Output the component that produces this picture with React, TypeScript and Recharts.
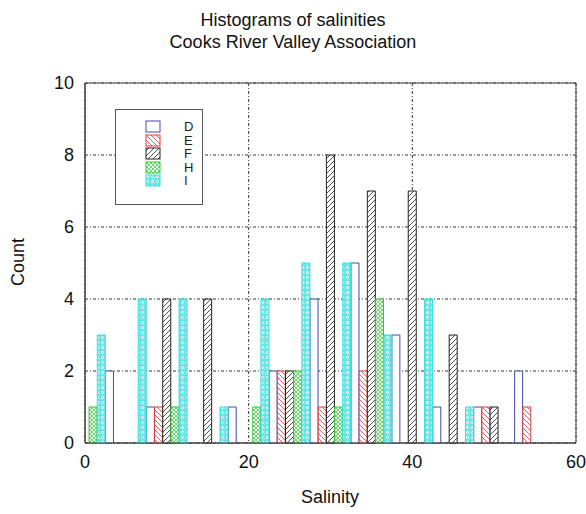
import { BarChart, Bar, XAxis, YAxis, CartesianGrid, ReferenceArea } from "recharts";

// salinity bins (bin centres) and counts per site
const bins = [0, 5, 10, 15, 20, 25, 30, 35, 40, 45, 50, 55];
const countsD = [0, 2, 1, 0, 1, 2, 4, 5, 3, 1, 1, 2];
const countsE = [0, 0, 1, 0, 0, 2, 1, 2, 0, 0, 1, 1];
const countsF = [0, 0, 4, 4, 0, 2, 8, 7, 7, 3, 1, 0];
const countsH = [1, 0, 1, 0, 1, 2, 1, 4, 0, 0, 0, 0];
const countsI = [3, 4, 4, 1, 4, 5, 5, 3, 4, 1, 0, 0];

const sites = ["D", "E", "F", "H", "I"];
const xTicks = [0, 20, 40, 60];
const yTicks = [0, 2, 4, 6, 8, 10];

const counts: Record<string, number[]> = { D: countsD, E: countsE, F: countsF, H: countsH, I: countsI };
// each site's bar sits at a fixed shift from the bin centre
const shift: Record<string, number> = { D: -2, E: -1, F: 0, H: 1, I: 2 };
const colors: Record<string, string> = {
  D: "#4646b8",
  E: "#dd3b3b",
  F: "#222222",
  H: "#33c833",
  I: "#33dede",
};

const rows: any[] = [];
bins.forEach((b, i) => {
  sites.forEach((s) => {
    const v = counts[s][i];
    if (v > 0) rows.push({ x: b + shift[s], [s]: v });
  });
});
rows.sort((a, b) => a.x - b.x);

const font = "'Liberation Sans', Arial, sans-serif";

const Patterns = () => (
  <defs>
    <pattern id="pD" width="4" height="4" patternUnits="userSpaceOnUse">
      <rect width="4" height="4" fill="#fff" />
    </pattern>
    <pattern id="pE" width="5" height="5" patternUnits="userSpaceOnUse">
      <rect width="5" height="5" fill="#fff" />
      <path d="M-1,-1 L6,6 M-1,4 L1,6 M4,-1 L6,1" stroke={colors.E} strokeWidth="0.8" />
    </pattern>
    <pattern id="pF" width="5" height="5" patternUnits="userSpaceOnUse">
      <rect width="5" height="5" fill="#fff" />
      <path d="M-1,6 L6,-1 M-1,1 L1,-1 M4,6 L6,4" stroke={colors.F} strokeWidth="0.8" />
    </pattern>
    <pattern id="pH" width="4" height="4" patternUnits="userSpaceOnUse">
      <rect width="4" height="4" fill="#f2fcf2" />
      <path d="M0,0 L4,4 M4,0 L0,4" stroke={colors.H} strokeWidth="0.7" />
    </pattern>
    <pattern id="pI" width="5" height="5" patternUnits="userSpaceOnUse">
      <rect width="5" height="5" fill="#fff" />
      <rect x="0.5" y="0.5" width="4" height="4" fill="none" stroke={colors.I} strokeWidth="0.7" />
      <path d="M0.5,0.5 L4.5,4.5 M4.5,0.5 L0.5,4.5" stroke={colors.I} strokeWidth="0.5" />
    </pattern>
  </defs>
);

const LegendBox = () => (
  <div
    style={{
      position: "absolute",
      left: 115,
      top: 109,
      width: 88,
      height: 96,
      border: "1px solid #555",
      background: "#fff",
      boxSizing: "border-box",
      fontFamily: font,
      fontSize: 13,
      lineHeight: "13px",
    }}
  >
    {sites.map((s, i) => (
      <div key={s} style={{ position: "absolute", left: 0, top: 10 + i * 13.5, height: 13, width: 86 }}>
        <svg width={17} height={13} style={{ position: "absolute", left: 29, top: 0 }}>
          <rect x={1} y={1} width={14} height={11} fill={`url(#p${s})`} stroke={colors[s]} strokeWidth={1} />
        </svg>
        <span style={{ position: "absolute", left: 68, top: 0, color: "#222" }}>{s}</span>
      </div>
    ))}
  </div>
);

export default function App() {
  return (
    <div style={{ position: "absolute", left: 0, top: 0, width: 586, height: 514, background: "#fff" }}>
      <div
        style={{
          position: "absolute",
          left: 0,
          top: 9,
          width: 586,
          textAlign: "center",
          fontFamily: font,
          fontSize: 18,
          lineHeight: "22px",
          color: "#111",
        }}
      >
        Histograms of salinities
        <br />
        Cooks River Valley Association
      </div>
      <div
        style={{
          position: "absolute",
          left: 18,
          top: 262,
          transform: "translate(-50%, -50%) rotate(-90deg)",
          fontFamily: font,
          fontSize: 18,
          color: "#111",
          whiteSpace: "nowrap",
        }}
      >
        Count
      </div>
      <div
        style={{
          position: "absolute",
          left: 330,
          top: 497,
          transform: "translate(-50%, -50%)",
          fontFamily: font,
          fontSize: 18,
          color: "#111",
        }}
      >
        Salinity
      </div>
      <BarChart
        width={586}
        height={514}
        data={rows}
        margin={{ top: 83, right: 10, bottom: 41, left: 40 }}
        barCategoryGap={0}
        barGap={0}
        style={{ position: "absolute", left: 0, top: 0 }}
      >
        <Patterns />
        <CartesianGrid stroke="#333" strokeDasharray="3 2 1 2" />
        <XAxis
          dataKey="x"
          type="number"
          domain={[0, 60]}
          ticks={xTicks}
          allowDataOverflow
          height={30}
          tickLine={false}
          tickMargin={6}
          axisLine={{ stroke: "#444" }}
          tick={{ fill: "#111", fontSize: 18, fontFamily: font }}
        />
        <YAxis
          type="number"
          domain={[0, 10]}
          ticks={yTicks}
          width={45}
          tickLine={false}
          tickMargin={5}
          axisLine={{ stroke: "#444" }}
          tick={{ fill: "#111", fontSize: 18, fontFamily: font }}
        />
        <ReferenceArea x1={0} x2={60} y1={0} y2={10} fill="none" stroke="#444" strokeOpacity={1} />
        {sites.map((s) => (
          <Bar
            key={s}
            dataKey={s}
            stackId="a"
            fill={`url(#p${s})`}
            stroke={colors[s]}
            strokeWidth={1}
            isAnimationActive={false}
          />
        ))}
      </BarChart>
      <LegendBox />
    </div>
  );
}
